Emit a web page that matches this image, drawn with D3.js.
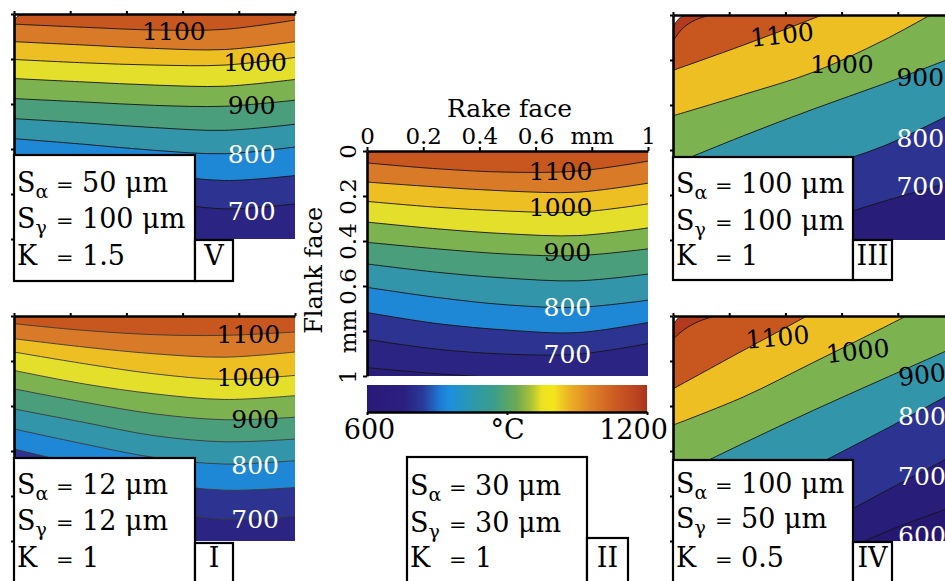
<!DOCTYPE html>
<html><head><meta charset="utf-8">
<script src="https://cdn.jsdelivr.net/npm/d3@7"></script>
<style>body{margin:0;background:#fff} svg{display:block} text{font-family:"DejaVu Serif",serif}</style>
</head><body><svg id="c" width="945" height="581"></svg>
<script>
// ---------- data ----------
const xs = [0, 0.25, 0.5, 0.75, 1];                 // rake-face sample positions (mm)
const tickVals = [0, 0.2, 0.4, 0.6, 0.8, 1];
const tickLabels = ["0", "0.2", "0.4", "0.6", "mm", "1"];
const cbTicks = [600, 900, 1200];
const cbLabels = ["600", "°C", "1200"];

// colour of each temperature band (by lower level)
const bandLevels = [1200, 1150, 1100, 1050, 1000, 950, 900, 850, 800, 750, 700, 650, 600, 500];
const bandColors = ["#ffffff", "#b23a1f", "#c8561f", "#d87a28", "#eebf22", "#e4df2a", "#7db251",
                    "#4b9e7b", "#3395aa", "#1f88d6", "#2d3391", "#2b2483", "#291d7a", "#261870"];
// colour bar stops
const cbStopT = [600, 680, 720, 760, 780, 820, 870, 920, 950, 975, 1000, 1030, 1080, 1130, 1180, 1200];
const cbStopC = ["#2a1a78", "#2b1f80", "#2a3a9a", "#1d80d8", "#1e90dc", "#2a98b0", "#3a9e8c", "#6aaa55",
                 "#a8c038", "#eee21e", "#f3e61c", "#ecb624", "#df8326", "#cc5c22", "#b84220", "#a83220"];

// Panel V
const levelsV = [1200, 1100, 1050, 1000, 950, 900, 850, 800, 750, 700, 650];
const cornerV = [[0, 0.035], [0.006, 0.02], [0.018, 0.007], [0.04, 0], [0.3, -0.3], [1, -1]];
const isoV = [
  [0.045, 0.059, 0.071, 0.068, 0.027],
  [0.123, 0.138, 0.153, 0.158, 0.123],
  [0.202, 0.217, 0.227, 0.227, 0.193],
  [0.287, 0.302, 0.316, 0.321, 0.291],
  [0.376, 0.391, 0.406, 0.410, 0.383],
  [0.465, 0.484, 0.505, 0.517, 0.490],
  [0.554, 0.579, 0.606, 0.621, 0.591],
  [0.643, 0.673, 0.710, 0.740, 0.718],
  [0.740, 0.777, 0.829, 0.866, 0.844],
  [0.844, 0.903, 0.978, 1.040, 1.040]];
const labV = [[1100, 0.569, 0.074], [1000, 0.858, 0.212], [900, 0.846, 0.406], [800, 0.846, 0.621], [700, 0.846, 0.877]];
const infoV = ["50 μm", "100 μm", "1.5"];

// Panel I
const levelsI = [1100, 1050, 1000, 950, 900, 850, 800, 750, 700, 650];
const isoI = [
  [0.034, 0.064, 0.083, 0.086, 0.071],
  [0.101, 0.138, 0.168, 0.183, 0.160],
  [0.160, 0.212, 0.257, 0.282, 0.264],
  [0.242, 0.302, 0.346, 0.371, 0.354],
  [0.324, 0.383, 0.435, 0.461, 0.450],
  [0.413, 0.473, 0.532, 0.559, 0.547],
  [0.502, 0.569, 0.629, 0.658, 0.643],
  [0.591, 0.666, 0.740, 0.774, 0.762],
  [0.681, 0.785, 0.859, 0.903, 0.889],
  [0.785, 0.903, 0.993, 1.020, 1.015]];
const labI = [[1100, 0.834, 0.079], [1000, 0.834, 0.272], [900, 0.858, 0.458], [800, 0.858, 0.663], [700, 0.858, 0.903]];
const infoI = ["12 μm", "12 μm", "1"];

// Panel II
const levelsII = [1200, 1100, 1050, 1000, 950, 900, 850, 800, 750, 700, 650];
const cornerII = [[0, 0.025], [0.005, 0.012], [0.012, 0.004], [0.025, 0], [0.3, -0.3], [1, -1]];
const isoII = [
  [0.053, 0.079, 0.094, 0.089, 0.045],
  [0.138, 0.160, 0.178, 0.183, 0.143],
  [0.224, 0.250, 0.267, 0.272, 0.235],
  [0.316, 0.346, 0.368, 0.376, 0.342],
  [0.406, 0.435, 0.458, 0.465, 0.435],
  [0.502, 0.539, 0.565, 0.577, 0.547],
  [0.606, 0.651, 0.684, 0.695, 0.663],
  [0.718, 0.767, 0.796, 0.807, 0.762],
  [0.837, 0.881, 0.903, 0.903, 0.856],
  [0.963, 0.990, 1.010, 1.030, 1.020]];
const labII = [[1100, 0.689, 0.089], [1000, 0.689, 0.250], [900, 0.713, 0.450], [800, 0.713, 0.695], [700, 0.713, 0.903]];
const infoII = ["30 μm", "30 μm", "1"];

// Panel III
const levelsIII = [1200, 1150, 1100, 1000, 900, 800, 700];
const cornerIII = [[0, 0.082], [0.004, 0.05], [0.015, 0.025], [0.03, 0.008], [0.05, 0], [0.3, -0.3], [1, -1]];
const l1150III = [[0, 0.115], [0.03, 0.065], [0.08, 0.022], [0.13, 0], [0.4, -0.3], [1, -1]];
const isoIII = [
  [0.246, 0.134, 0.015, -0.112, -0.246],
  [0.448, 0.354, 0.254, 0.112, -0.060],
  [0.664, 0.537, 0.418, 0.306, 0.187],
  [0.888, 0.784, 0.687, 0.582, 0.433],
  [1.127, 1.022, 0.925, 0.828, 0.739]];
const labIII = [[1100, 0.388, 0.087, -6], [1000, 0.601, 0.216, 0], [900, 0.880, 0.276, 0], [800, 0.880, 0.545, 0], [700, 0.880, 0.761, 0]];
const infoIII = ["100 μm", "100 μm", "1"];

// Panel IV
const levelsIV = [1200, 1150, 1100, 1000, 900, 800, 700, 600];
const cornerIV = [[0, 0.066], [0.003, 0.04], [0.011, 0.02], [0.023, 0.006], [0.038, 0], [0.3, -0.3], [1, -1]];
const l1150IV = [[0, 0.103], [0.04, 0.06], [0.09, 0.025], [0.145, 0], [0.4, -0.25], [1, -0.9]];
const isoIV = [
  [0.324, 0.153, -0.016, -0.199, -0.375],
  [0.485, 0.360, 0.206, 0.051, -0.110],
  [0.718, 0.566, 0.419, 0.279, 0.140],
  [1.007, 0.838, 0.669, 0.507, 0.338],
  [1.279, 1.110, 0.949, 0.782, 0.618],
  [1.400, 1.260, 1.110, 0.963, 0.846]];
const labIV = [[1100, 0.372, 0.093, -5], [1000, 0.657, 0.154, -6], [900, 0.886, 0.260, -6], [800, 0.886, 0.446, 0], [700, 0.886, 0.710, 0], [600, 0.886, 0.975, 0]];
const infoIV = ["100 μm", "50 μm", "0.5"];

// ---------- drawing ----------
const W = 281, H = 225;
const svg = d3.select("#c");
const colorOf = d3.scaleOrdinal().domain(bandLevels).range(bandColors);
const toPts = arr => arr.map(ys => ys.map((v, i) => [xs[i], v]));

function panel(cfg) {
  const g = svg.append("g").attr("transform", `translate(${cfg.x0},${cfg.y0})`);
  const x = d3.scaleLinear().domain([0, 1]).range([0, W]);
  const y = d3.scaleLinear().domain([0, 1]).range([0, H]);
  const cid = "clip" + cfg.name;
  g.append("clipPath").attr("id", cid).append("rect").attr("width", W).attr("height", H);
  const body = g.append("g").attr("clip-path", `url(#${cid})`);
  body.append("rect").attr("width", W).attr("height", H).attr("fill", colorOf(cfg.levels[0]));
  const nc = cfg.corners || 0;
  const curveFor = i => i < nc ? d3.curveMonotoneX : d3.curveCatmullRom.alpha(0.5);
  cfg.lines.forEach((pts, i) => {
    const below = i + 1 < cfg.lines.length ? cfg.levels[i + 1] : cfg.levels[i] - cfg.step;
    const area = d3.area().x(d => x(d[0])).y0(H * 4).y1(d => y(d[1])).curve(curveFor(i));
    body.append("path").attr("d", area(pts)).attr("fill", colorOf(below));
  });
  cfg.lines.forEach((pts, i) => {
    const line = d3.line().x(d => x(d[0])).y(d => y(d[1])).curve(curveFor(i));
    body.append("path").attr("d", line(pts))
      .attr("fill", "none").attr("stroke", cfg.lineColor || "#151515").attr("stroke-width", 0.9);
  });
  cfg.labels.forEach(l => {
    body.append("text")
      .attr("transform", `translate(${x(l[1])},${y(l[2])}) rotate(${l[3] || 0})`)
      .attr("text-anchor", "middle").attr("dy", "0.36em")
      .attr("font-size", 25)
      .attr("fill", l[0] <= 800 ? "#ffffff" : "#000000")
      .text(l[0]);
  });
  // axes (top and left)
  const ax = g.append("g").call(d3.axisTop(x).tickValues(tickVals).tickSize(cfg.full ? 4 : 3).tickSizeOuter(0)
    .tickFormat(cfg.full ? (d, i) => tickLabels[i] : ""));
  const ay = g.append("g").call(d3.axisLeft(y).tickValues(tickVals).tickSize(cfg.full ? 4 : 3).tickSizeOuter(0)
    .tickFormat(cfg.full ? (d, i) => tickLabels[i] : ""));
  [ax, ay].forEach(a => {
    a.select(".domain").attr("stroke", "#000").attr("stroke-width", 2.6);
    a.selectAll(".tick line").attr("stroke", "#000").attr("stroke-width", 2);
  });
  if (cfg.full) {
    ax.selectAll(".tick text").attr("font-size", 23).attr("font-family", "DejaVu Serif").attr("fill", "#000").attr("y", -7);
    ay.selectAll(".tick text").attr("font-size", 23).attr("font-family", "DejaVu Serif").attr("fill", "#000")
      .attr("text-anchor", "middle").attr("x", null).attr("dy", null)
      .attr("transform", "translate(-11,0) rotate(-90)");
    g.append("text").attr("x", x(0.5) + 2).attr("y", -34).attr("text-anchor", "middle")
      .attr("font-size", 25).text("Rake face");
    g.append("text").attr("transform", `translate(-45,${y(0.53)}) rotate(-90)`).attr("text-anchor", "middle")
      .attr("font-size", 24).text("Flank face");
  }
}

function infoBox(bx, by, bw, bh, nx, ny, nw, vals, numeral, base) {
  const g = svg.append("g");
  g.append("rect").attr("x", bx).attr("y", by).attr("width", bw).attr("height", bh)
    .attr("fill", "#fff").attr("stroke", "#000").attr("stroke-width", 2.2);
  g.append("rect").attr("x", nx).attr("y", ny).attr("width", nw).attr("height", bh - (ny - by))
    .attr("fill", "#fff").attr("stroke", "#000").attr("stroke-width", 2.2);
  const names = [["S", "α"], ["S", "γ"], ["K", ""]];
  names.forEach((nm, i) => {
    const t = g.append("text").attr("y", base[i]).attr("font-size", 27);
    t.append("tspan").attr("x", bx + 3).text(nm[0]);
    if (nm[1]) t.append("tspan").attr("font-size", 19).attr("dy", 6).text(nm[1]);
    t.append("tspan").attr("x", bx + 42).attr("dy", nm[1] ? -6 : 0).attr("font-size", 21).text("=");
    t.append("tspan").attr("x", bx + 68).text(vals[i]);
  });
  g.append("text").attr("x", nx + nw / 2).attr("y", base[2]).attr("text-anchor", "middle")
    .attr("font-size", 27).text(numeral);
}

panel({name: "V", x0: 14, y0: 14, levels: levelsV, step: 50, corners: 1, lines: [cornerV, ...toPts(isoV)], labels: labV});
panel({name: "I", x0: 14, y0: 316, levels: levelsI, step: 50, corners: 0, lines: toPts(isoI), labels: labI, lineColor: "#3a3a3a"});
panel({name: "II", x0: 367, y0: 151, levels: levelsII, step: 50, corners: 1, lines: [cornerII, ...toPts(isoII)], labels: labII, full: true});
panel({name: "III", x0: 673, y0: 15, levels: levelsIII, step: 100, corners: 2, lines: [cornerIII, l1150III, ...toPts(isoIII)], labels: labIII});
panel({name: "IV", x0: 673, y0: 316, levels: levelsIV, step: 100, corners: 2, lines: [cornerIV, l1150IV, ...toPts(isoIV)], labels: labIV});

// colour bar
{
  const cx = d3.scaleLinear().domain([600, 1200]).range([367, 647]);
  const defs = svg.append("defs");
  const grad = defs.append("linearGradient").attr("id", "cbg");
  cbStopT.forEach((t, i) => grad.append("stop").attr("offset", ((t - 600) / 600 * 100) + "%").attr("stop-color", cbStopC[i]));
  svg.append("rect").attr("x", cx(600)).attr("y", 385).attr("width", cx(1200) - cx(600)).attr("height", 27).attr("fill", "url(#cbg)");
  const a = svg.append("g").attr("transform", "translate(0,412)")
    .call(d3.axisBottom(cx).tickValues(cbTicks).tickSize(3).tickSizeOuter(0).tickFormat((d, i) => cbLabels[i]));
  a.select(".domain").attr("stroke", "#000").attr("stroke-width", 2.4);
  a.selectAll(".tick line").attr("stroke", "#000").attr("stroke-width", 2);
  a.selectAll(".tick text").attr("font-size", 27).attr("font-family", "DejaVu Serif").attr("fill", "#000").attr("y", 8).attr("dy", "0.71em")
    .attr("dx", (d, i) => [2, 0, -14][i]);
}

infoBox(14, 155, 181, 126, 195, 240, 38, infoV, "V", [192, 228, 265]);
infoBox(14, 458, 181, 140, 195, 543, 38, infoI, "I", [494, 530, 567]);
infoBox(407, 457, 180, 140, 587, 538, 41, infoII, "II", [495, 532, 567]);
infoBox(673, 157, 180, 123, 853, 240, 39, infoIII, "III", [193, 230, 265]);
infoBox(673, 460, 180, 140, 853, 542, 39, infoIV, "IV", [493, 528, 567]);
</script></body></html>
